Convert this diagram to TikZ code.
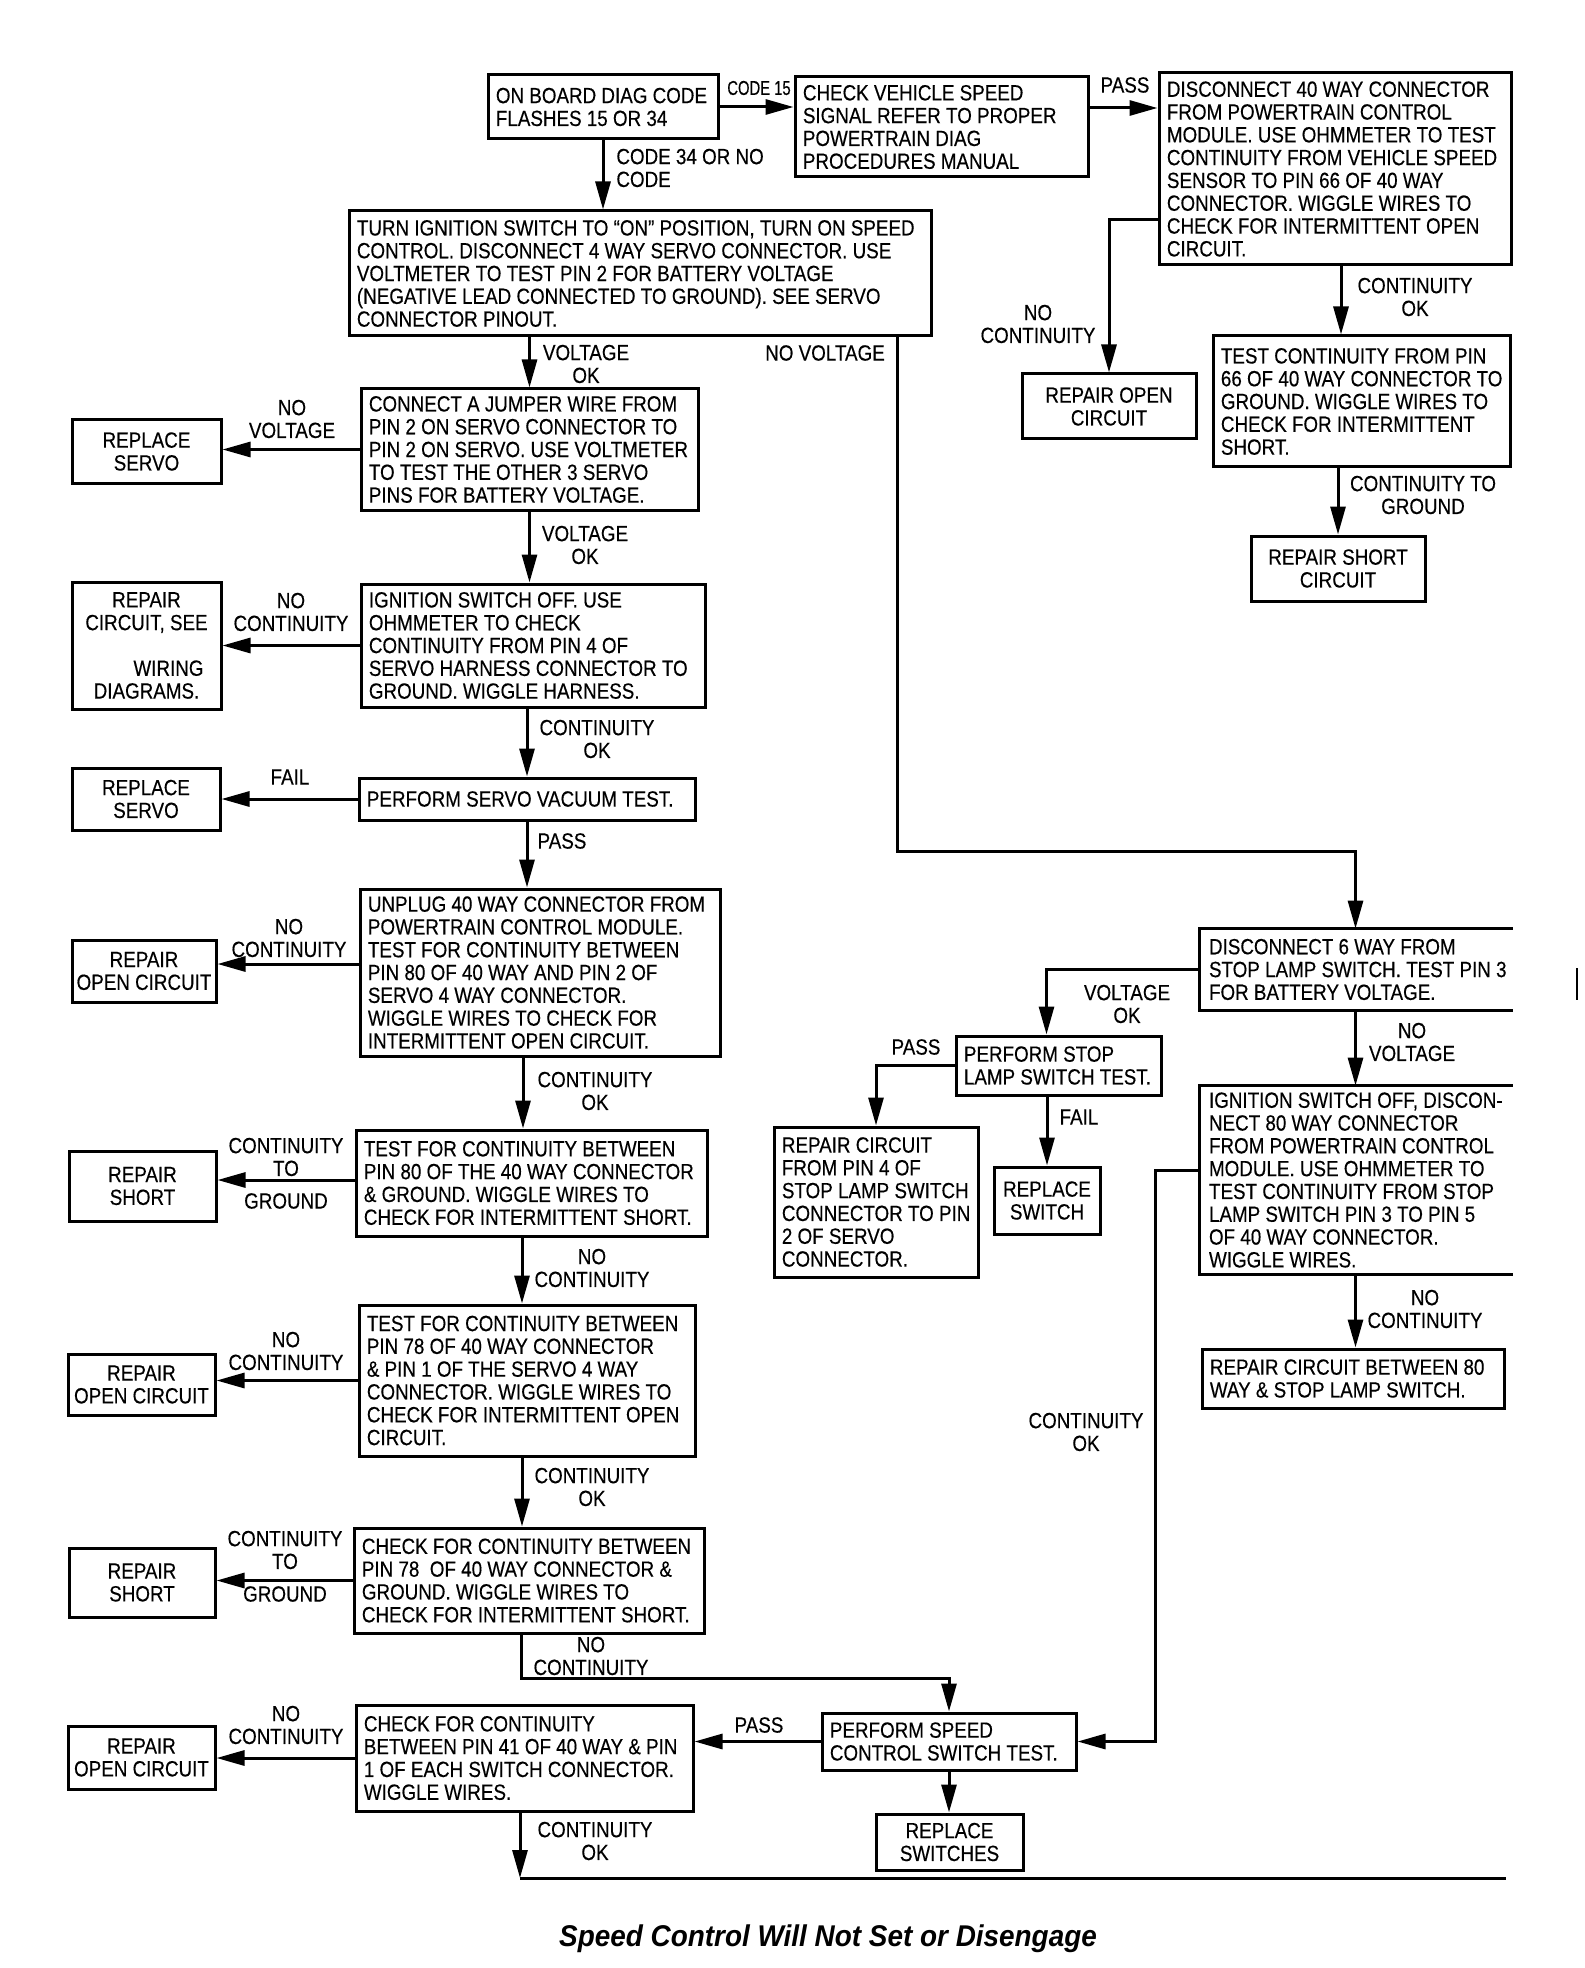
\documentclass[tikz,border=0pt]{standalone}
\usepackage{fontspec}
\setmainfont{Liberation Sans}[FakeStretch=0.855,FakeBold=0.35]
\newfontfamily\smallcond{Liberation Sans}[FakeStretch=0.74,FakeBold=0.35]
\newfontfamily\titlefont{Liberation Sans}[FakeStretch=0.93]
\usetikzlibrary{arrows.meta,fit}
\tikzset{
  boxline/.style={line width=1.5pt, line cap=rect},
  boxed/.style={draw, boxline, inner sep=0pt},
  txt/.style={font=\fontsize{11}{11.4}\selectfont, inner sep=0pt, align=left},
  ctxt/.style={font=\fontsize{11}{11.4}\selectfont, inner sep=0pt, align=center},
  lbl/.style={font=\fontsize{11}{11.4}\selectfont, inner sep=0pt, align=center},
  arr/.style={line width=1.5pt, -{Triangle[length=14pt,width=7.5pt]}},
  conn/.style={line width=1.5pt},
}
\newcommand\boxL[6]{%
  \coordinate (#1-a) at (#2,#3); \coordinate (#1-b) at (#4,#5);
  \node[boxed, fit=(#1-a)(#1-b)] (#1) {};
  \node[txt, anchor=west] (#1-t) at ([xshift=4.5pt]#1.west) {#6};}
\newcommand\boxC[6]{%
  \coordinate (#1-a) at (#2,#3); \coordinate (#1-b) at (#4,#5);
  \node[boxed, fit=(#1-a)(#1-b)] (#1) {};
  \node[ctxt] (#1-t) at (#1.center) {#6};}
\newcommand\boxO[6]{%
  \coordinate (#1-a) at (#2,#3); \coordinate (#1-b) at (#4,#5);
  \node[inner sep=0pt, fit=(#1-a)(#1-b)] (#1) {};
  \draw[boxline] (#1.north east) -- (#1.north west) -- (#1.south west) -- (#1.south east);
  \node[txt, anchor=west] (#1-t) at ([xshift=4.5pt]#1.west) {#6};}
\begin{document}
\begin{tikzpicture}[x=0.5pt,y=-0.5pt]
\useasboundingbox (0,0) rectangle (1584,1968);

% ---------- boxes ----------
\boxL{A}{488}{75}{718}{139}{ON BOARD DIAG CODE\\FLASHES 15 OR 34}
\boxL{B}{795}{77}{1088}{177}{CHECK VEHICLE SPEED\\SIGNAL REFER TO PROPER\\POWERTRAIN DIAG\\PROCEDURES MANUAL}
\boxL{C}{1159}{73}{1511}{265}{DISCONNECT 40 WAY CONNECTOR\\FROM POWERTRAIN CONTROL\\MODULE. USE OHMMETER TO TEST\\CONTINUITY FROM VEHICLE SPEED\\SENSOR TO PIN 66 OF 40 WAY\\CONNECTOR. WIGGLE WIRES TO\\CHECK FOR INTERMITTENT OPEN\\CIRCUIT.}
\boxL{D}{349}{211}{931}{336}{TURN IGNITION SWITCH TO “ON” POSITION, TURN ON SPEED\\CONTROL. DISCONNECT 4 WAY SERVO CONNECTOR. USE\\VOLTMETER TO TEST PIN 2 FOR BATTERY VOLTAGE\\(NEGATIVE LEAD CONNECTED TO GROUND). SEE SERVO\\CONNECTOR PINOUT.}
\boxC{E}{1022}{374}{1196}{439}{REPAIR OPEN\\CIRCUIT}
\boxL{F}{1213}{336}{1510}{467}{TEST CONTINUITY FROM PIN\\66 OF 40 WAY CONNECTOR TO\\GROUND. WIGGLE WIRES TO\\CHECK FOR INTERMITTENT\\SHORT.}
\boxC{G}{1251}{536}{1425}{601}{REPAIR SHORT\\CIRCUIT}
\boxL{H}{361}{389}{698}{510}{CONNECT A JUMPER WIRE FROM\\PIN 2 ON SERVO CONNECTOR TO\\PIN 2 ON SERVO. USE VOLTMETER\\TO TEST THE OTHER 3 SERVO\\PINS FOR BATTERY VOLTAGE.}
\boxC{I}{72}{420}{221}{483}{REPLACE\\SERVO}
\boxL{J}{361}{584}{705}{707}{IGNITION SWITCH OFF. USE\\OHMMETER TO CHECK\\CONTINUITY FROM PIN 4 OF\\SERVO HARNESS CONNECTOR TO\\GROUND. WIGGLE HARNESS.}
\boxC{K}{72}{582}{221}{709}{REPAIR\\CIRCUIT, SEE\\[11.4pt]\hspace*{22pt}WIRING\\DIAGRAMS.}
\boxL{L}{359}{778}{695}{820}{PERFORM SERVO VACUUM TEST.}
\boxC{M}{72}{768}{220}{830}{REPLACE\\SERVO}
\boxL{N}{360}{889}{720}{1056}{UNPLUG 40 WAY CONNECTOR FROM\\POWERTRAIN CONTROL MODULE.\\TEST FOR CONTINUITY BETWEEN\\PIN 80 OF 40 WAY AND PIN 2 OF\\SERVO 4 WAY CONNECTOR.\\WIGGLE WIRES TO CHECK FOR\\INTERMITTENT OPEN CIRCUIT.}
\boxC{O}{72}{940}{216}{1002}{REPAIR\\OPEN CIRCUIT}
\boxL{P}{356}{1130}{707}{1236}{TEST FOR CONTINUITY BETWEEN\\PIN 80 OF THE 40 WAY CONNECTOR\\\& GROUND. WIGGLE WIRES TO\\CHECK FOR INTERMITTENT SHORT.}
\boxC{Q}{69}{1151}{216}{1221}{REPAIR\\SHORT}
\boxL{R}{359}{1305}{695}{1456}{TEST FOR CONTINUITY BETWEEN\\PIN 78 OF 40 WAY CONNECTOR\\\& PIN 1 OF THE SERVO 4 WAY\\CONNECTOR. WIGGLE WIRES TO\\CHECK FOR INTERMITTENT OPEN\\CIRCUIT.}
\boxC{S}{68}{1354}{215}{1415}{REPAIR\\OPEN CIRCUIT}
\boxL{T}{354}{1528}{704}{1633}{CHECK FOR CONTINUITY BETWEEN\\PIN 78\ \ OF 40 WAY CONNECTOR \&\\GROUND. WIGGLE WIRES TO\\CHECK FOR INTERMITTENT SHORT.}
\boxC{U}{69}{1548}{215}{1617}{REPAIR\\SHORT}
\boxL{V}{356}{1705}{693}{1811}{CHECK FOR CONTINUITY\\BETWEEN PIN 41 OF 40 WAY \& PIN\\1 OF EACH SWITCH CONNECTOR.\\WIGGLE WIRES.}
\boxC{W}{68}{1726}{215}{1789}{REPAIR\\OPEN CIRCUIT}
\boxO{X}{1200}{929}{1511}{1010}{DISCONNECT 6 WAY FROM\\STOP LAMP SWITCH. TEST PIN 3\\FOR BATTERY VOLTAGE.}
\boxL{Y}{956}{1036}{1161}{1095}{PERFORM STOP\\LAMP SWITCH TEST.}
\boxL{Z}{774}{1127}{978}{1277}{REPAIR CIRCUIT\\FROM PIN 4 OF\\STOP LAMP SWITCH\\CONNECTOR TO PIN\\2 OF SERVO\\CONNECTOR.}
\boxC{AA}{994}{1167}{1100}{1234}{REPLACE\\SWITCH}
\boxO{AB}{1200}{1086}{1511}{1274}{IGNITION SWITCH OFF, DISCON-\\NECT 80 WAY CONNECTOR\\FROM POWERTRAIN CONTROL\\MODULE. USE OHMMETER TO\\TEST CONTINUITY FROM STOP\\LAMP SWITCH PIN 3 TO PIN 5\\OF 40 WAY CONNECTOR.\\WIGGLE WIRES.}
\boxL{AC}{1202}{1349}{1504}{1408}{REPAIR CIRCUIT BETWEEN 80\\WAY \& STOP LAMP SWITCH.}
\boxL{AD}{822}{1713}{1076}{1770}{PERFORM SPEED\\CONTROL SWITCH TEST.}
\boxC{AE}{876}{1814}{1023}{1870}{REPLACE\\SWITCHES}

% ---------- helper coordinates ----------
\coordinate (be) at (1088,108);
\coordinate (cw) at (1159,220);
\coordinate (cb) at (1341,265);
\coordinate (db) at (897,336);
\coordinate (nw) at (360,964);
\coordinate (nb) at (523,1056);
\coordinate (pw) at (356,1180);
\coordinate (pb) at (522,1236);
\coordinate (rb) at (522,1456);
\coordinate (tb) at (521,1633);
\coordinate (vb) at (520,1811);
\coordinate (endL) at (520,1878);
\coordinate (endR) at (1506,1878);
\coordinate (abw) at (1200,1170);

% ---------- connectors ----------
\draw[arr] (A.east) -- (A.east -| B.west);
\draw[arr] (be) -- (be -| C.west);
\draw[arr] (A.south) -- (A.south |- D.north);
\draw[arr] (cw) -| (E.north);
\draw[arr] (cb) -- (cb |- F.north);
\draw[arr] (G.north |- F.south) -- (G.north);
\draw[arr] (H.north |- D.south) -- (H.north);
\draw[arr] (db) -- ++(0,515) -| (X.north);
\draw[arr] (H.west) -- (H.west -| I.east);
\draw[arr] (H.south) -- (H.south |- J.north);
\draw[arr] (J.west) -- (J.west -| K.east);
\draw[arr] (L.north |- J.south) -- (L.north);
\draw[arr] (L.west) -- (L.west -| M.east);
\draw[arr] (L.south) -- (L.south |- N.north);
\draw[arr] (nw) -- (nw -| O.east);
\draw[arr] (nb) -- (nb |- P.north);
\draw[arr] (pw) -- (pw -| Q.east);
\draw[arr] (pb) -- (pb |- R.north);
\draw[arr] (R.west) -- (R.west -| S.east);
\draw[arr] (rb) -- (rb |- T.north);
\draw[arr] (T.west) -- (T.west -| U.east);
\draw[arr] (tb) -- ++(0,45) -| (AD.north);
\draw[arr] (V.west) -- (V.west -| W.east);
\draw[arr] (vb) -- (endL);
\draw[conn] (endL) -- (endR);
\draw[arr] (X.west) -| ([xshift=-6pt]Y.north);
\draw[arr] (Y.west) -| (Z.north);
\draw[arr] (AA.north |- Y.south) -- (AA.north);
\draw[arr] (X.south) -- (X.south |- AB.north);
\draw[arr] (AB.south) -- (AB.south |- AC.north);
\draw[arr] (abw) -- ++(-45,0) |- (AD.east);
\draw[arr] (AD.west) -- (AD.west -| V.east);
\draw[arr] (AD.south) -- (AD.south |- AE.north);

% ---------- labels ----------
\node[lbl, font=\smallcond\fontsize{10}{11}\selectfont] (l1) at (759,88) {CODE 15};
\node[lbl] (l2) at (1125,85) {PASS};
\node[txt, anchor=west] (l3) at (616,168) {CODE 34 OR NO\\CODE};
\node[lbl] (l4) at (1038,324) {NO\\CONTINUITY};
\node[lbl] (l5) at (1415,297) {CONTINUITY\\OK};
\node[lbl] (l6) at (1423,495) {CONTINUITY TO\\GROUND};
\node[lbl] (l7) at (586,364) {VOLTAGE\\OK};
\node[lbl] (l8) at (825,353) {NO VOLTAGE};
\node[lbl] (l9) at (292,419) {NO\\VOLTAGE};
\node[lbl] (l10) at (585,545) {VOLTAGE\\OK};
\node[lbl] (l11) at (291,612) {NO\\CONTINUITY};
\node[lbl] (l12) at (597,739) {CONTINUITY\\OK};
\node[lbl] (l13) at (290,777) {FAIL};
\node[lbl] (l14) at (562,841) {PASS};
\node[lbl] (l15) at (289,938) {NO\\CONTINUITY};
\node[lbl] (l16) at (595,1091) {CONTINUITY\\OK};
\node[lbl] (l17) at (286,1157) {CONTINUITY\\TO};
\node[lbl] (l18) at (286,1201) {GROUND};
\node[lbl] (l19) at (592,1268) {NO\\CONTINUITY};
\node[lbl] (l20) at (286,1351) {NO\\CONTINUITY};
\node[lbl] (l21) at (592,1487) {CONTINUITY\\OK};
\node[lbl] (l22) at (285,1550) {CONTINUITY\\TO};
\node[lbl] (l23) at (285,1594) {GROUND};
\node[lbl] (l24) at (591,1656) {NO\\CONTINUITY};
\node[lbl] (l25) at (286,1725) {NO\\CONTINUITY};
\node[lbl] (l26) at (595,1841) {CONTINUITY\\OK};
\node[lbl] (l27) at (1127,1004) {VOLTAGE\\OK};
\node[lbl] (l28) at (916,1047) {PASS};
\node[lbl] (l29) at (1079,1117) {FAIL};
\node[lbl] (l30) at (1412,1042) {NO\\VOLTAGE};
\node[lbl] (l31) at (1086,1432) {CONTINUITY\\OK};
\node[lbl] (l32) at (1425,1309) {NO\\CONTINUITY};
\node[lbl] (l33) at (759,1725) {PASS};

% stray mark
\draw[line width=1.2pt] (1577,968) -- (1577,1000);

% title
\node[inner sep=0pt, font=\titlefont\bfseries\itshape\fontsize{15}{17}\selectfont] (title) at (828,1939) {Speed Control Will Not Set or Disengage};
\end{tikzpicture}
\end{document}
